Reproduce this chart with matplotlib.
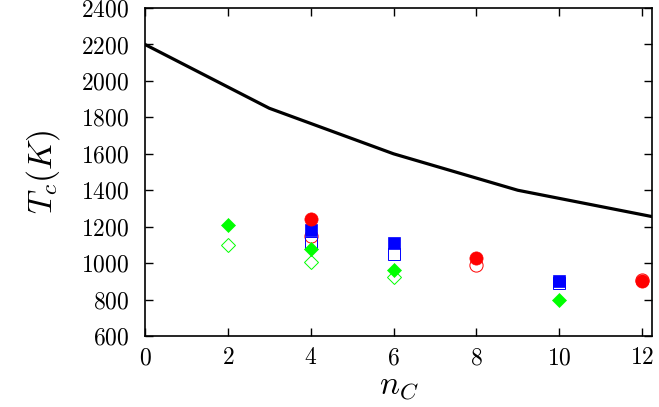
import matplotlib
matplotlib.use("Agg")
import matplotlib.pyplot as plt

plt.rcParams['font.family'] = 'cmr10'
plt.rcParams['mathtext.fontset'] = 'cm'
plt.rcParams['axes.formatter.use_mathtext'] = True

# Black line
line_x = [0, 3, 6, 9, 12.25]
line_y = [2200, 1850, 1600, 1400, 1255]

# Green diamonds
gf_x = [2, 4, 6, 10]
gf_y = [1207, 1078, 962, 798]
go_x = [2, 4, 6]
go_y = [1097, 1006, 922]

# Red circles
rf_x = [4, 8, 12]
rf_y = [1242, 1027, 902]
ro_x = [4, 8, 12]
ro_y = [1150, 987, 908]

# Blue squares
bf_x = [4, 6, 10]
bf_y = [1183, 1110, 902]
bo_x = [4, 6, 10]
bo_y = [1110, 1050, 892]

xticks = [0, 2, 4, 6, 8, 10, 12]
yticks = [600, 800, 1000, 1200, 1400, 1600, 1800, 2000, 2200, 2400]

fig = plt.figure(figsize=(6.59, 4.07), dpi=100)
ax = fig.add_axes([0.22, 0.1744, 0.77, 0.8059])

ax.plot(line_x, line_y, color='black', lw=2.3, zorder=3)

ms_sq = 9
ms_c = 9.5
ms_d = 7.5
ax.plot(go_x, go_y, ls='none', marker='D', ms=ms_d, mfc='none', mec='#00ff00', mew=0.7)
ax.plot(ro_x, ro_y, ls='none', marker='o', ms=ms_c, mfc='none', mec='#ff0000', mew=0.7)
ax.plot(bo_x, bo_y, ls='none', marker='s', ms=ms_sq, mfc='none', mec='#0000ff', mew=0.7)
ax.plot(bf_x, bf_y, ls='none', marker='s', ms=ms_sq, mfc='#0000ff', mec='#0000ff', mew=0.5)
ax.plot(rf_x, rf_y, ls='none', marker='o', ms=ms_c, mfc='#ff0000', mec='#ff0000', mew=0.5)
ax.plot(gf_x, gf_y, ls='none', marker='D', ms=ms_d, mfc='#00ff00', mec='#00ff00', mew=0.5)

ax.set_xlim(0, 12.25)
ax.set_ylim(600, 2400)
ax.set_xticks(xticks)
ax.set_yticks(yticks)
ax.tick_params(direction='in', top=True, right=True, length=6, width=1, labelsize=17)
ax.tick_params(axis='y', pad=11)
ax.tick_params(axis='x', pad=8)
for s in ax.spines.values():
    s.set_linewidth(1.2)

ax.set_xlabel(r'$n_C$', fontsize=24, labelpad=3)
ax.set_ylabel(r'$T_c(K)$', fontsize=24, labelpad=14)

fig.savefig('out.png', dpi=100)
